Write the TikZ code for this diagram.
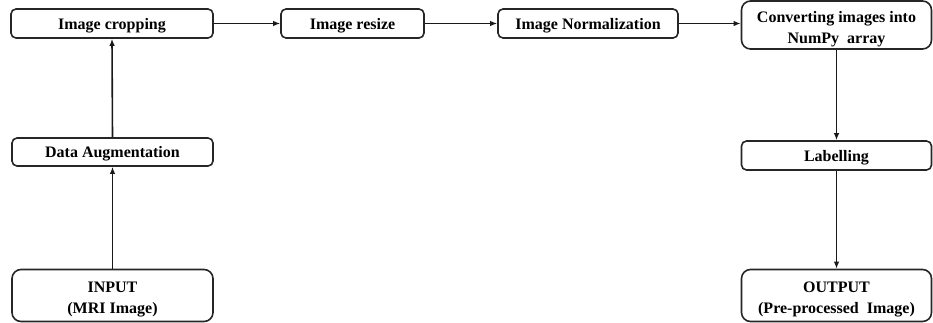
\documentclass[tikz,border=0pt]{standalone}
\usepackage{fontspec}
\setmainfont{Liberation Serif}
\usetikzlibrary{arrows.meta}
\newcommand{\topstrut}{\rule{0pt}{19pt}}
\begin{document}
\begin{tikzpicture}[x=1pt,y=-1pt,
  box/.style={draw=black!85,line width=1.6pt,rounded corners=5pt,align=center,
    font=\bfseries\fontsize{16}{21}\selectfont,inner sep=0pt,text depth=0pt},
  bigbox/.style={draw=black!85,line width=1.6pt,rounded corners=9pt,align=center,
    font=\bfseries\fontsize{16}{21}\selectfont,inner sep=0pt},
  arr/.style={-{Latex[length=7pt,width=5.5pt]},line width=1.6pt,black!90}]
\useasboundingbox (0,0) rectangle (933,322);
\node[box,minimum width=202pt,minimum height=29pt] (crop) at (112,23.5) {Image cropping};
\node[box,minimum width=143pt,minimum height=29pt] (resize) at (352.5,23.5) {Image resize};
\node[box,minimum width=180pt,minimum height=29pt] (norm) at (588,23.5) {Image Normalization};
\node[bigbox,minimum width=190pt,minimum height=48pt] (conv) at (836.5,25) {\topstrut Converting images into\\NumPy\ \ array};
\node[box,minimum width=201pt,minimum height=28pt] (aug) at (112.5,152) {Data Augmentation};
\node[bigbox,minimum width=201pt,minimum height=52pt] (in) at (112.5,295.5) {\topstrut INPUT\\(MRI Image)};
\node[box,minimum width=190pt,minimum height=29pt] (lab) at (836.5,155.5) {Labelling};
\node[bigbox,minimum width=190pt,minimum height=52pt] (out) at (836.5,295.5) {\topstrut OUTPUT\\(Pre-processed\ \ Image)};
\draw[arr] (in.north) -- (aug.south);
\draw[arr] (aug.north) -- (crop.south);
\draw[arr] (crop.east) -- (resize.west);
\draw[arr] (resize.east) -- (norm.west);
\draw[arr] (norm.east) -- (conv.west |- norm.east);
\draw[arr] (conv.south) -- (lab.north);
\draw[arr] (lab.south) -- (out.north);
\end{tikzpicture}
\end{document}
